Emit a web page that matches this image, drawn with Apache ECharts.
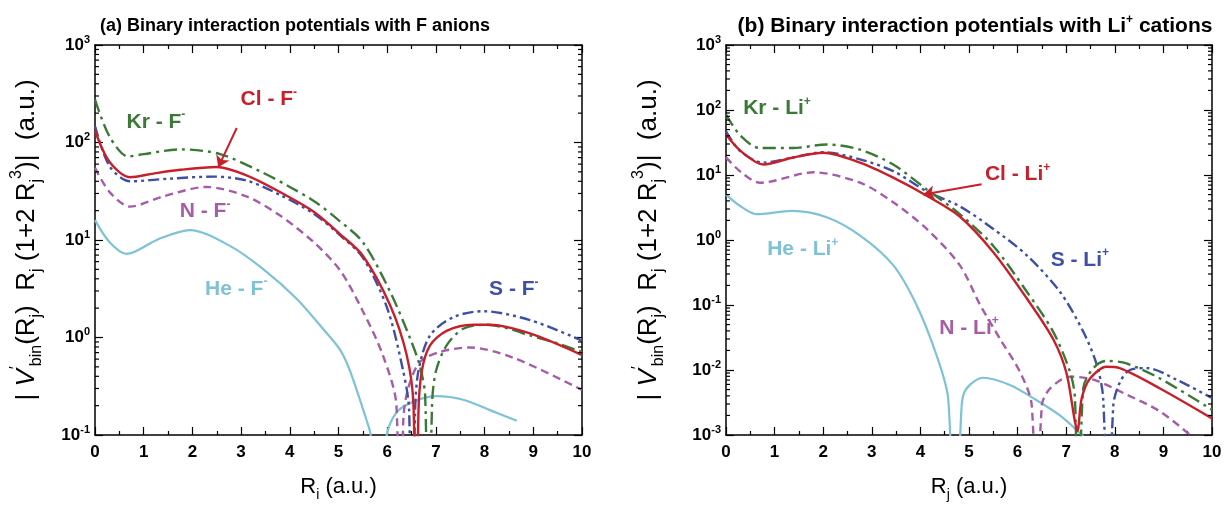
<!DOCTYPE html>
<html>
<head>
<meta charset="utf-8">
<script src="https://cdn.jsdelivr.net/npm/echarts@6/dist/echarts.min.js"></script>
<style>
  html, body { margin: 0; padding: 0; background: #fff; }
  #chart { width: 1225px; height: 507px; }
</style>
</head>
<body>
<div id="chart"></div>
<script>
// ---- Panel (a): binary potentials with F- anions, [R, |V'(R) R (1+2R^3)|] ----
const krF = [[0,275],[0.3,115],[0.68,72],[1.0,76],[1.75,85],[2.57,76],[3.45,49],[4.0,35],[4.5,25],[5.0,16],[5.5,9.5],[6.06,2.95],[6.47,0.98],[6.67,0.51],[6.78,0.25],[6.85,0.001],[6.92,0.2],[7.0,0.45],[7.22,0.83],[7.56,1.23],[8.04,1.35],[8.5,1.23],[8.93,1.05],[9.5,0.87],[10,0.71]];
const clF = [[0,132],[0.3,63],[0.72,44],[1.2,48],[1.75,52.5],[2.5,56],[3.11,46],[3.8,31],[4.49,19.5],[5.03,11.5],[5.5,6.9],[6.06,2.14],[6.4,0.66],[6.54,0.2],[6.6,0.001],[6.64,0.16],[6.71,0.45],[6.88,0.83],[7.22,1.17],[7.77,1.35],[8.1,1.35],[8.93,1.1],[10,0.66]];
const sF  = [[0,147],[0.3,57],[0.72,40],[1.5,42.5],[2.43,44.7],[3.11,40.7],[3.8,29],[4.49,18.6],[5.03,11.2],[5.5,6.6],[6.0,2.0],[6.33,0.45],[6.45,0.18],[6.5,0.001],[6.57,0.16],[6.64,0.45],[6.88,1.05],[7.36,1.62],[7.97,1.86],[8.93,1.51],[10,0.93]];
const nF  = [[0,55],[0.3,31],[0.72,22],[1.4,28],[2.29,35],[3.11,28],[3.8,17.8],[4.49,9.5],[5.03,4.9],[5.5,1.86],[5.91,0.66],[6.19,0.2],[6.26,0.001],[6.33,0.14],[6.43,0.3],[6.67,0.56],[7.08,0.71],[7.7,0.79],[8.59,0.62],[10,0.29]];
const heF = [[0,16],[0.3,9.5],[0.65,7.2],[1.3,10.2],[1.95,12.6],[2.77,8.7],[3.46,5.0],[4.14,2.5],[4.68,1.23],[5.03,0.75],[5.24,0.45],[5.58,0.14],[5.66,0.1],[5.82,0.01],[5.99,0.1],[6.19,0.17],[6.54,0.22],[7.02,0.25],[7.56,0.23],[8.11,0.18],[8.66,0.14]];

// ---- Panel (b): binary potentials with Li+ cations ----
const krLi = [[0,85],[0.3,40],[0.7,26],[1.38,26],[2.07,29.5],[2.76,24.5],[3.44,14.5],[4.13,6.0],[4.81,2.5],[5.5,0.81],[6.19,0.16],[6.73,0.039],[7.08,0.0093],[7.18,0.0037],[7.25,0.00001],[7.35,0.0052],[7.56,0.0107],[7.83,0.0138],[8.24,0.0126],[8.93,0.0074],[10,0.00245]];
const clLi = [[0,42],[0.3,23.5],[0.77,14.5],[1.38,18.6],[2.0,22],[2.76,15.5],[3.44,9.1],[4.13,4.8],[4.81,2.3],[5.5,0.65],[6.19,0.126],[6.73,0.03],[7.0,0.0093],[7.18,0.0016],[7.23,0.00115],[7.32,0.0037],[7.49,0.0074],[7.83,0.0112],[8.1,0.0107],[8.93,0.0052],[10,0.0018]];
const sLi  = [[0,47],[0.3,23],[0.77,15.5],[1.38,18.6],[2.0,22.4],[2.76,17.4],[3.44,11.5],[4.13,5.6],[4.81,3.3],[5.5,1.48],[6.19,0.58],[6.87,0.16],[7.35,0.039],[7.63,0.012],[7.76,0.0037],[7.87,0.00001],[7.97,0.0029],[8.11,0.0066],[8.31,0.01],[8.66,0.0107],[9.27,0.0071],[10,0.0037]];
const nLi  = [[0,18.7],[0.3,11.2],[0.7,7.6],[1.8,11],[2.76,7.6],[3.44,3.8],[4.13,1.48],[4.81,0.41],[5.23,0.1],[5.64,0.03],[6.05,0.0093],[6.29,0.0029],[6.38,0.00001],[6.5,0.0029],[6.67,0.0052],[7.08,0.0079],[7.56,0.0071],[8.24,0.0042],[8.93,0.0023],[9.55,0.001],[10,0.0005]];
const heLi = [[0,5.0],[0.3,3.3],[0.63,2.5],[1.35,2.8],[2.07,2.24],[2.76,1.17],[3.44,0.41],[3.92,0.1],[4.33,0.017],[4.57,0.0037],[4.71,0.00001],[4.85,0.0029],[4.95,0.0052],[5.29,0.0076],[5.84,0.0059],[6.32,0.0037],[6.87,0.002],[7.32,0.001],[7.5,0.0007]];

// Axis ranges (log decades)
const rangeA = [0.1, 1000];
const rangeB = [0.001, 1000];
const xRange = [0, 10];

const FONT = "'Liberation Sans', Arial, Helvetica, sans-serif";
const GREEN = '#3b7a36', RED = '#c8202a', BLUE = '#3d4fa6', PURPLE = '#a65ca8', CYAN = '#7ec2d6';
const DASH_DOT = [13, 5, 3, 5];
const DASH_DOT_DOT = [11, 4, 3, 4, 3, 4];
const DASHED = [8, 5];

// Minor log ticks (2..9 per decade) for the y axes
function minorLogTicks(range) {
  const out = [];
  const lo = Math.round(Math.log10(range[0])), hi = Math.round(Math.log10(range[1]));
  for (let e = lo; e < hi; e++) for (let k = 2; k <= 9; k++) out.push([0, k * Math.pow(10, e)]);
  return out;
}

function richFor(size, sub, lh) {
  return {
    n:  { fontFamily: FONT, fontSize: size, lineHeight: lh, color: '#000' },
    v:  { fontFamily: FONT, fontSize: size, lineHeight: lh, fontStyle: 'italic', color: '#000' },
    up: { fontFamily: FONT, fontSize: sub, lineHeight: Math.round(lh * 0.4), verticalAlign: 'top', color: '#000' },
    dn: { fontFamily: FONT, fontSize: sub, lineHeight: Math.round(lh * 0.4), verticalAlign: 'bottom', color: '#000' }
  };
}
const yRich = richFor(26, 16, 36);
const xRich = richFor(22, 14, 30);
const yTitle = '{n|| }{v|V}{up|′}{dn|bin}{n|(R}{dn|j}{n|)  R}{dn|j}{n| (1+2 R}{dn|j}{up|3}{n|)|  (a.u.)}';

function xAxes(grid, nameSub) {
  const common = {
    type: 'value', gridIndex: grid, min: xRange[0], max: xRange[1], interval: 1,
    axisLine: { show: true, onZero: false, lineStyle: { color: '#000', width: 1.5 } },
    axisTick: { show: true, inside: true, length: 8, lineStyle: { color: '#000', width: 1.2 } },
    minorTick: { show: true, splitNumber: 2, length: 4, lineStyle: { color: '#000', width: 1.2 } },
    splitLine: { show: false }, minorSplitLine: { show: false }
  };
  return [
    Object.assign({}, common, {
      position: 'bottom',
      axisLabel: { show: true, margin: 9, color: '#000', fontFamily: FONT, fontSize: 17, fontWeight: 'bold' },
      name: '{n|R}{dn|' + nameSub + '}{n| (a.u.)}', nameLocation: 'middle', nameGap: 37,
      nameTextStyle: { rich: xRich }
    }),
    Object.assign({}, common, { position: 'top', axisLabel: { show: false } })
  ];
}

function yAxes(grid, range, gap) {
  const common = {
    type: 'log', logBase: 10, gridIndex: grid, min: range[0], max: range[1],
    axisLine: { show: true, onZero: false, lineStyle: { color: '#000', width: 1.5 } },
    axisTick: { show: true, inside: true, length: 8, lineStyle: { color: '#000', width: 1.2 } },
    splitLine: { show: false }
  };
  return [
    Object.assign({}, common, {
      position: 'left',
      axisLabel: {
        show: true, margin: 5,
        formatter: v => '{b|10}{e|' + Math.round(Math.log10(v)) + '}',
        rich: {
          b: { fontFamily: FONT, fontSize: 17, fontWeight: 'bold', color: '#000', lineHeight: 22 },
          e: { fontFamily: FONT, fontSize: 11, fontWeight: 'bold', color: '#000', lineHeight: 10, verticalAlign: 'top' }
        }
      },
      name: yTitle, nameLocation: 'middle', nameRotate: 90, nameGap: gap,
      nameTextStyle: { rich: yRich }
    }),
    Object.assign({}, common, { position: 'right', axisLabel: { show: false } })
  ];
}

function curve(data, color, dash, width, xi, yi) {
  return {
    type: 'line', data: data, xAxisIndex: xi, yAxisIndex: yi,
    showSymbol: false, smooth: 0.3, clip: true, silent: true,
    lineStyle: { color: color, width: width, type: dash, cap: 'butt' },
    z: 3
  };
}

function note(x, y, main, sup, color) {
  return {
    coord: [x, y],
    label: {
      show: true, position: 'inside',
      formatter: '{m|' + main + '}{s|' + sup + '}',
      rich: {
        m: { fontFamily: FONT, fontSize: 21, fontWeight: 'bold', color: color, lineHeight: 26 },
        s: { fontFamily: FONT, fontSize: 12, fontWeight: 'bold', color: color, lineHeight: 10, verticalAlign: 'top' }
      }
    }
  };
}

function withNotes(series, notes) {
  series.markPoint = {
    silent: true, symbol: 'circle', symbolSize: 1, animation: false,
    itemStyle: { color: 'rgba(0,0,0,0)' },
    data: notes
  };
  return series;
}

function withArrow(series, from, to) {
  series.markLine = {
    silent: true, animation: false, symbol: ['none', 'arrow'], symbolSize: 11,
    itemStyle: { color: RED },
    lineStyle: { color: RED, width: 2, type: 'solid' },
    label: { show: false },
    data: [[{ coord: from }, { coord: to }]]
  };
  return series;
}

function tickSeries(range, xi, yi) {
  return {
    type: 'custom', xAxisIndex: xi, yAxisIndex: yi, silent: true, z: 5,
    data: minorLogTicks(range),
    renderItem: (params, api) => {
      const v = api.value(1);
      const l = api.coord([xRange[0], v]);
      const r = api.coord([xRange[1], v]);
      const st = { stroke: '#000', lineWidth: 1.2 };
      return {
        type: 'group',
        children: [
          { type: 'line', shape: { x1: l[0], y1: l[1], x2: l[0] + 4, y2: l[1] }, style: st },
          { type: 'line', shape: { x1: r[0], y1: r[1], x2: r[0] - 4, y2: r[1] }, style: st }
        ]
      };
    }
  };
}

const titleRichA = {
  t: { fontFamily: FONT, fontSize: 18, fontWeight: 'bold', color: '#000', lineHeight: 22 }
};
const titleRichB = {
  t: { fontFamily: FONT, fontSize: 21, fontWeight: 'bold', color: '#000', lineHeight: 24 },
  s: { fontFamily: FONT, fontSize: 12, fontWeight: 'bold', color: '#000', lineHeight: 10, verticalAlign: 'top' }
};

const option = {
  animation: false,
  backgroundColor: '#fff',
  title: [
    { text: '{t|(a) Binary interaction potentials with F anions}', left: 290, top: 10, textAlign: 'center',
      textStyle: { rich: titleRichA } },
    { text: '{t|(b) Binary interaction potentials with Li}{s|+}{t| cations}', left: 970, top: 9, textAlign: 'center',
      textStyle: { rich: titleRichB } }
  ],
  grid: [
    { left: 95, top: 45, width: 487, height: 392 },
    { left: 726, top: 45, width: 486, height: 392 }
  ],
  xAxis: [].concat(xAxes(0, 'i'), xAxes(1, 'j')),
  yAxis: [].concat(yAxes(0, rangeA, 50), yAxes(1, rangeB, 59)),
  series: [
    tickSeries(rangeA, 0, 0),
    tickSeries(rangeB, 2, 2),
    withNotes(curve(heF, CYAN, 'solid', 2.2, 0, 0), [note(2.9, 3.16, 'He - F', '-', CYAN)]),
    withNotes(curve(nF, PURPLE, DASHED, 2.4, 0, 0), [note(2.26, 19.6, 'N - F', '-', PURPLE)]),
    withNotes(curve(sF, BLUE, DASH_DOT_DOT, 2.4, 0, 0), [note(8.6, 3.1, 'S - F', '-', BLUE)]),
    withNotes(curve(krF, GREEN, DASH_DOT, 2.4, 0, 0), [note(1.25, 162, 'Kr - F', '-', GREEN)]),
    withArrow(withNotes(curve(clF, RED, 'solid', 2.4, 0, 0), [note(3.57, 275, 'Cl - F', '-', RED)]), [2.91, 141], [2.53, 55.6]),

    withNotes(curve(heLi, CYAN, 'solid', 2.2, 2, 2), [note(1.58, 0.71, 'He - Li', '+', CYAN)]),
    withNotes(curve(nLi, PURPLE, DASHED, 2.4, 2, 2), [note(5.0, 0.044, 'N - Li', '+', PURPLE)]),
    withNotes(curve(sLi, BLUE, DASH_DOT_DOT, 2.4, 2, 2), [note(7.28, 0.49, 'S - Li', '+', BLUE)]),
    withNotes(curve(krLi, GREEN, DASH_DOT, 2.4, 2, 2), [note(1.05, 105, 'Kr - Li', '+', GREEN)]),
    withArrow(withNotes(curve(clLi, RED, 'solid', 2.4, 2, 2), [note(6.0, 10.2, 'Cl - Li', '+', RED)]), [5.26, 7.2], [4.06, 5.0])
  ]
};

const chart = echarts.init(document.getElementById('chart'), null, { renderer: 'canvas' });
chart.setOption(option);
</script>
</body>
</html>
